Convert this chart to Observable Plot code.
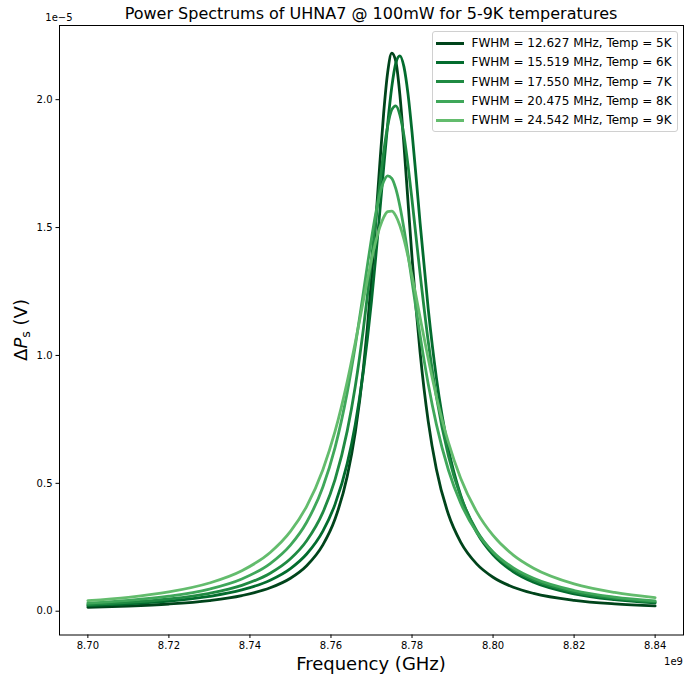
<!DOCTYPE html>
<html>
<head>
<meta charset="utf-8">
<script src="https://cdn.jsdelivr.net/npm/d3@7"></script>
<script src="https://cdn.jsdelivr.net/npm/@observablehq/plot@0.6"></script>
<style>
  html, body { margin: 0; padding: 0; background: #fff; }
  #wrap { position: relative; width: 684px; height: 682px; font-family: "DejaVu Sans", sans-serif; }
  #legend { position: absolute; left: 432px; top: 31px; width: 246px; height: 101px;
            background: rgba(255,255,255,0.8); border: 1px solid #d0d0d0; border-radius: 3px; box-sizing: border-box; }
  .item { position: absolute; left: 3px; height: 14px; font-size: 12px; line-height: 14px; white-space: nowrap; color: #000; }
  .sw { position: absolute; left: 0; top: 5.5px; width: 28px; height: 3px; }
  .lab { position: absolute; left: 35.5px; top: 0; }
</style>
</head>
<body>
<div id="wrap"></div>
<script>
// Frequencies in GHz (axis shows the same values with a 1e9 offset in Hz)
const freqs = [8.700, 8.710, 8.720, 8.730, 8.738, 8.745, 8.750, 8.754, 8.758, 8.761,
               8.764, 8.766, 8.768, 8.769, 8.770, 8.771, 8.772, 8.773, 8.774, 8.775,
               8.776, 8.777, 8.778, 8.779, 8.780, 8.781, 8.782, 8.784, 8.786, 8.789,
               8.792, 8.796, 8.800, 8.805, 8.810, 8.820, 8.830, 8.840];
// ΔPs values in units of 1e-5 V
const temp5K = [0.0153,0.0203,0.0282,0.0418,0.0611,0.0915,0.1290,0.1779,0.2593,0.3605,
                0.5266,0.6993,0.9493,1.1118,1.3012,1.5139,1.7376,1.9476,2.1078,2.1818,
                2.1495,2.0198,1.8250,1.6032,1.3840,1.1844,1.0111,0.7422,0.5562,0.3780,
                0.2703,0.1842,0.1329,0.0938,0.0696,0.0425,0.0286,0.0205];
const temp6K = [0.0219,0.0288,0.0397,0.0579,0.0831,0.1213,0.1668,0.2237,0.3133,0.4178,
                0.5771,0.7305,0.9380,1.0665,1.2129,1.3763,1.5528,1.7340,1.9058,2.0491,
                2.1432,2.1716,2.1292,2.0238,1.8730,1.6979,1.5168,1.1822,0.9144,0.6329,
                0.4537,0.3077,0.2202,0.1539,0.1131,0.0682,0.0454,0.0324];
const temp7K = [0.0261,0.0345,0.0477,0.0700,0.1011,0.1484,0.2050,0.2757,0.3865,0.5142,
                0.7040,0.8797,1.1044,1.2352,1.3759,1.5217,1.6648,1.7943,1.8972,1.9607,
                1.9760,1.9407,1.8601,1.7449,1.6085,1.4631,1.3187,1.0554,0.8408,0.6059,
                0.4485,0.3139,0.2297,0.1638,0.1221,0.0750,0.0505,0.0363];
const temp8K = [0.0318,0.0422,0.0587,0.0867,0.1261,0.1864,0.2585,0.3480,0.4860,0.6396,
                0.8546,1.0375,1.2460,1.3537,1.4577,1.5514,1.6278,1.6799,1.7024,1.6927,
                1.6519,1.5845,1.4968,1.3961,1.2892,1.1817,1.0775,0.8887,0.7314,0.5512,
                0.4233,0.3077,0.2317,0.1694,0.1287,0.0810,0.0555,0.0403];
const temp9K = [0.0413,0.0545,0.0753,0.1102,0.1582,0.2297,0.3120,0.4102,0.5534,0.7028,
                0.8968,1.0502,1.2146,1.2960,1.3731,1.4419,1.4987,1.5398,1.5623,1.5643,
                1.5459,1.5082,1.4543,1.3876,1.3119,1.2311,1.1483,0.9869,0.8405,0.6588,
                0.5202,0.3875,0.2963,0.2194,0.1680,0.1066,0.0732,0.0533];

const temps = ["5K", "6K", "7K", "8K", "9K"];
const fwhms = ["12.627", "15.519", "17.550", "20.475", "24.542"];
const colors = ["#00441b", "#036c2e", "#1f8a42", "#3fa75a", "#63bc6d"];
const seriesValues = [temp5K, temp6K, temp7K, temp8K, temp9K];
const xTicks = [8.70, 8.72, 8.74, 8.76, 8.78, 8.80, 8.82, 8.84];
const yTicks = [0.0, 0.5, 1.0, 1.5, 2.0];

const rows = seriesValues.flatMap((vals, i) =>
  vals.map((v, j) => ({ f: freqs[j], p: v, temp: temps[i] })));

const W = 684, H = 682;
const chart = Plot.plot({
  width: W, height: H,
  marginLeft: 59, marginRight: 1, marginTop: 25, marginBottom: 47.5,
  style: { fontFamily: "DejaVu Sans", fontSize: "10px", background: "#fff", overflow: "visible", color: "#000" },
  x: { domain: [8.693, 8.847], ticks: xTicks, tickFormat: d3.format(".2f"), tickSize: 3.5, tickPadding: 3.5, label: null },
  y: { domain: [-0.093, 2.29], ticks: yTicks, tickFormat: d3.format(".1f"), tickSize: 3.5, tickPadding: 3.5, label: null },
  color: { domain: temps, range: colors },
  marks: [
    Plot.line(rows, { x: "f", y: "p", z: "temp", stroke: "temp", strokeWidth: 2.8, curve: "monotone-x" }),
    Plot.frame({ stroke: "#000", strokeWidth: 1 })
  ]
});

document.getElementById("wrap").appendChild(chart);
const svg = d3.select(chart);
const font = "DejaVu Sans";
svg.append("text").attr("x", 371).attr("y", 19).attr("text-anchor", "middle")
  .attr("font-family", font).attr("font-size", 16).attr("fill", "#000")
  .text("Power Spectrums of UHNA7 @ 100mW for 5-9K temperatures");
svg.append("text").attr("x", 59).attr("y", 21).attr("font-family", font).attr("font-size", 10).attr("fill", "#000")
  .text("1e\u22125");
svg.append("text").attr("x", 683).attr("y", 665).attr("text-anchor", "end").attr("font-family", font).attr("font-size", 10).attr("fill", "#000")
  .text("1e9");
svg.append("text").attr("x", 371).attr("y", 670).attr("text-anchor", "middle")
  .attr("font-family", font).attr("font-size", 18).attr("fill", "#000").text("Frequency (GHz)");
const yl = svg.append("text").attr("transform", "translate(27,330) rotate(-90)").attr("text-anchor", "middle")
  .attr("font-family", font).attr("font-size", 18).attr("fill", "#000");
yl.append("tspan").text("\u0394");
yl.append("tspan").attr("font-style", "italic").text("P");
yl.append("tspan").attr("font-size", 12.6).attr("dy", 3).text("s");
yl.append("tspan").attr("dy", -3).text(" (V)");

// legend
const leg = d3.select("#wrap").append("div").attr("id", "legend");
temps.forEach((t, i) => {
  const it = leg.append("div").attr("class", "item").style("top", (4 + i * 19.35) + "px");
  it.append("div").attr("class", "sw").style("background", colors[i]);
  it.append("div").attr("class", "lab").text(`FWHM = ${fwhms[i]} MHz, Temp = ${t}`);
});
</script>
</body>
</html>
